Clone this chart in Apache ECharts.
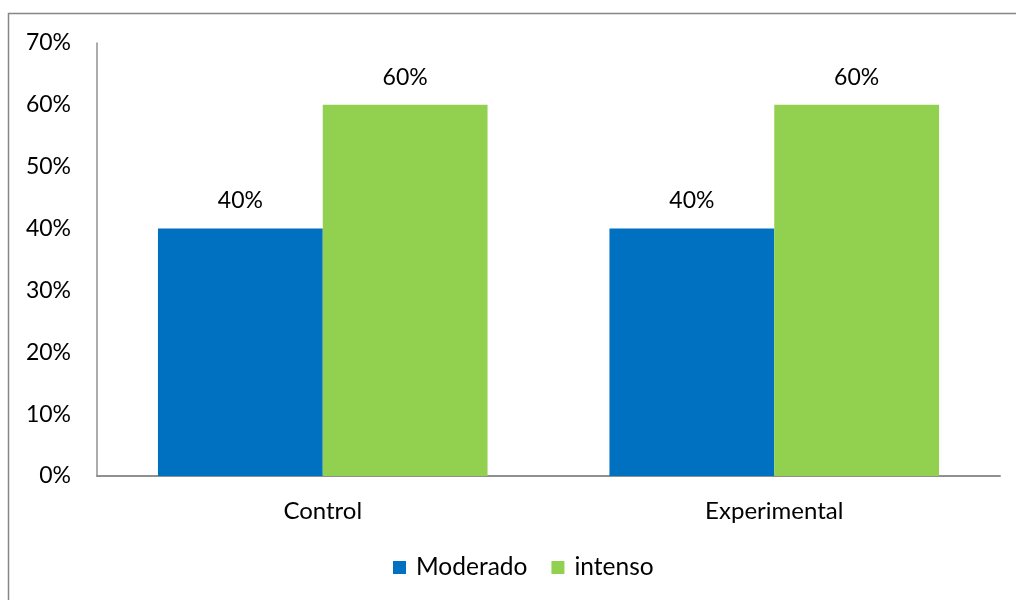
<!DOCTYPE html>
<html>
<head>
<meta charset="utf-8">
<script src="https://cdn.jsdelivr.net/npm/echarts@6/dist/echarts.min.js"></script>
<style>
  html, body { margin: 0; padding: 0; background: #fff; }
  #chart { width: 1016px; height: 600px; }
</style>
</head>
<body>
<div id="chart"></div>
<script>
// Share of participants by intensity level, per group
const categories = ['Control', 'Experimental'];
const moderado = [40, 40];
const intenso = [60, 60];
const seriesNames = ['Moderado', 'intenso'];

const FONT = 'Lato, "Open Sans", sans-serif';
const chart = echarts.init(document.getElementById('chart'), null, { renderer: 'canvas' });

const labelStyle = {
  show: true,
  position: 'top',
  distance: 16,
  formatter: p => p.value + '%',
  fontFamily: FONT,
  fontSize: 23,
  color: '#000'
};

chart.setOption({
  animation: false,
  backgroundColor: '#fff',
  graphic: [{
    type: 'rect',
    shape: { x: 8.5, y: 13.5, width: 1200, height: 800 },
    style: { fill: 'none', stroke: '#868686', lineWidth: 1.5 },
    silent: true
  }],
  grid: { left: 97, top: 43, right: 16, bottom: 124, containLabel: false },
  legend: {
    data: seriesNames,
    bottom: 15,
    left: 388,
    itemWidth: 13,
    itemHeight: 13,
    itemGap: 24,
    icon: 'rect',
    textStyle: { fontFamily: FONT, fontSize: 24.5, color: '#000', padding: [0, 0, 0, 5] }
  },
  xAxis: {
    type: 'category',
    data: categories,
    axisLine: { lineStyle: { color: '#909090', width: 2 } },
    axisTick: { show: false },
    axisLabel: { fontFamily: FONT, fontSize: 24, color: '#000', margin: 23 }
  },
  yAxis: {
    type: 'value',
    min: 0,
    max: 70,
    interval: 10,
    axisLine: { show: true, lineStyle: { color: '#909090', width: 1.5 } },
    axisTick: { show: false },
    splitLine: { show: false },
    axisLabel: { fontFamily: FONT, fontSize: 23, color: '#000', margin: 26, formatter: v => v + '%' }
  },
  series: [
    {
      name: seriesNames[0],
      type: 'bar',
      data: moderado,
      barGap: '0%',
      barCategoryGap: '27%',
      itemStyle: { color: '#0070C0' },
      label: labelStyle
    },
    {
      name: seriesNames[1],
      type: 'bar',
      data: intenso,
      barGap: '0%',
      barCategoryGap: '27%',
      itemStyle: { color: '#92D050' },
      label: labelStyle
    }
  ]
});
</script>
</body>
</html>
